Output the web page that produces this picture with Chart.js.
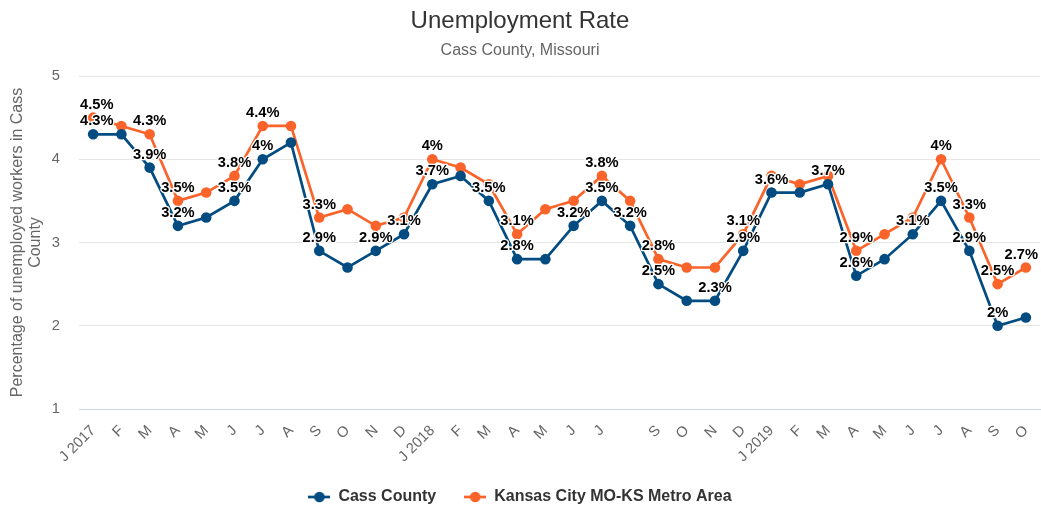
<!DOCTYPE html>
<html>
<head>
<meta charset="utf-8">
<script src="https://cdn.jsdelivr.net/npm/chart.js@4.4.1/dist/chart.umd.min.js"></script>
<style>
html,body{margin:0;padding:0;background:#fff;}
#wrap{width:1041px;height:508px;position:relative;}
</style>
</head>
<body>
<div id="wrap"><canvas id="c"></canvas></div>
<script>
const categories = ['J 2017','F','M','A','M','J','J','A','S','O','N','D',
  'J 2018','F','M','A','M','J','J','','S','O','N','D',
  'J 2019','F','M','A','M','J','J','A','S','O'];
const cassCounty = [4.3,4.3,3.9,3.2,3.3,3.5,4.0,4.2,2.9,2.7,2.9,3.1,
  3.7,3.8,3.5,2.8,2.8,3.2,3.5,3.2,2.5,2.3,2.3,2.9,
  3.6,3.6,3.7,2.6,2.8,3.1,3.5,2.9,2.0,2.1];
const kansasCity = [4.5,4.4,4.3,3.5,3.6,3.8,4.4,4.4,3.3,3.4,3.2,3.3,
  4.0,3.9,3.7,3.1,3.4,3.5,3.8,3.5,2.8,2.7,2.7,3.1,
  3.8,3.7,3.8,2.9,3.1,3.3,4.0,3.3,2.5,2.7];
// indices of points whose value label is visible
const cassLabelIdx = [0,2,3,5,6,8,10,11,12,14,15,17,18,19,20,22,23,24,26,27,29,30,31,32];
const kcLabelIdx = [0,2,3,5,6,8,12,15,18,20,23,27,30,31,32,33];
const yTicks = [1,2,3,4,5];

const FONT = '"Liberation Sans", Arial, Helvetica, sans-serif';
const BLUE = '#034c81';
const ORANGE = '#fa6329';

function legendSymbol(color){
  const c = document.createElement('canvas');
  c.width = 22; c.height = 12;
  const g = c.getContext('2d');
  g.strokeStyle = color; g.lineWidth = 2.7;
  g.beginPath(); g.moveTo(0,6); g.lineTo(22,6); g.stroke();
  g.fillStyle = color;
  g.beginPath(); g.arc(11,6,5.3,0,Math.PI*2); g.fill();
  return c;
}

const pointLabels = {
  id: 'pointLabels',
  afterDatasetsDraw(chart){
    const ctx = chart.ctx, area = chart.chartArea;
    ctx.save();
    ctx.font = 'bold 14.7px ' + FONT;
    ctx.textBaseline = 'middle';
    ctx.textAlign = 'left';
    ctx.lineJoin = 'round';
    chart.data.datasets.forEach((ds, di) => {
      const meta = chart.getDatasetMeta(di);
      ds.labelIdx.forEach(i => {
        const pt = meta.data[i];
        if (!pt) return;
        const txt = ds.data[i] + '%';
        const w = ctx.measureText(txt).width;
        let x = pt.x - w/2;
        x = Math.max(area.left + 1, Math.min(x, area.right - 2 - w));
        const y = pt.y - 13;
        ctx.strokeStyle = '#ffffff'; ctx.lineWidth = 2.7;
        ctx.strokeText(txt, x, y);
        ctx.fillStyle = '#000000';
        ctx.fillText(txt, x, y);
      });
    });
    ctx.restore();
  }
};

new Chart(document.getElementById('c'), {
  type: 'line',
  data: {
    labels: categories,
    datasets: [
      {label:'Cass County', data: cassCounty, labelIdx: cassLabelIdx,
       borderColor: BLUE, backgroundColor: BLUE, borderWidth: 2.7,
       pointRadius: 5.3, pointBorderWidth: 0, pointBackgroundColor: BLUE, tension: 0},
      {label:'Kansas City MO-KS Metro Area', data: kansasCity, labelIdx: kcLabelIdx,
       borderColor: ORANGE, backgroundColor: ORANGE, borderWidth: 2.7,
       pointRadius: 5.3, pointBorderWidth: 0, pointBackgroundColor: ORANGE, tension: 0}
    ]
  },
  options: {
    responsive: true,
    maintainAspectRatio: false,
    animation: false,
    layout: {autoPadding: false, padding: {top: 0, left: 0, right: 1, bottom: -7}},
    plugins: {
      title: {display: true, text: 'Unemployment Rate', color: '#333333',
        font: {family: FONT, size: 24, weight: 'normal'}, padding: {top: 7, bottom: 0}},
      subtitle: {display: true, text: 'Cass County, Missouri', color: '#666666',
        font: {family: FONT, size: 16, weight: 'normal'}, padding: {top: 5, bottom: 16}},
      legend: {position: 'bottom',
        labels: {usePointStyle: true, pointStyleWidth: 22, padding: 28, color: '#333333',
          font: {family: FONT, size: 16, weight: 'bold'},
          generateLabels(chart){
            const items = Chart.defaults.plugins.legend.labels.generateLabels(chart);
            items.forEach(it => { it.pointStyle = legendSymbol(chart.data.datasets[it.datasetIndex].borderColor); });
            return items;
          }}},
      tooltip: {enabled: false}
    },
    scales: {
      x: {
        offset: true,
        grid: {display: false, offset: true},
        border: {display: true, color: '#ccd6eb', width: 1},
        ticks: {autoSkip: false, maxRotation: 45, minRotation: 45, padding: 5, color: '#666666',
          font: {family: FONT, size: 14.7}},
        afterFit(s){ s.height = 52; s.paddingLeft = 0; s.paddingRight = 0; }
      },
      y: {
        min: 1, max: 5,
        afterBuildTicks(s){ s.ticks = yTicks.map(v => ({value: v})); },
        grid: {color: ctx => ctx.tick && ctx.tick.value === 1 ? 'rgba(0,0,0,0)' : '#e6e6e6', drawTicks: false, lineWidth: 1},
        border: {display: false},
        ticks: {padding: 19, color: '#666666', font: {family: FONT, size: 14.7}},
        title: {display: true, text: ['Percentage of unemployed workers in Cass', 'County'],
          color: '#666666', font: {family: FONT, size: 16, lineHeight: 1.125}, padding: {top: 9, bottom: 0}},
        afterFit(s){ s.width = 79; }
      }
    }
  },
  plugins: [pointLabels]
});
</script>
</body>
</html>
